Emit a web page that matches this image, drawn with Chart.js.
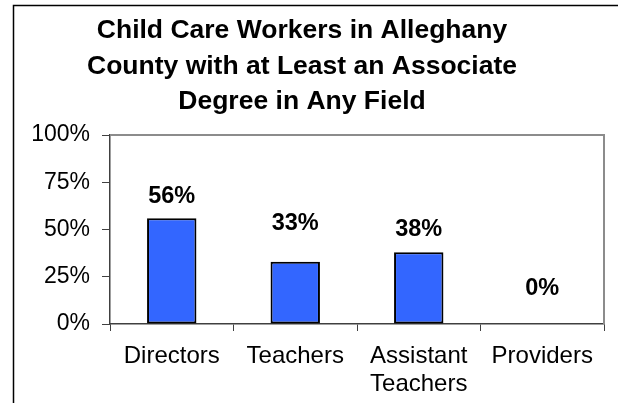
<!DOCTYPE html>
<html>
<head>
<meta charset="utf-8">
<title>Child Care Workers in Alleghany County</title>
<script src="https://cdn.jsdelivr.net/npm/chart.js@4.4.1/dist/chart.umd.min.js"></script>
<style>
  body { margin: 0; background: #ffffff; }
  canvas { display: block; }
</style>
</head>
<body>
<canvas id="degreeChart" width="618" height="403"></canvas>
<script>
// chart data
const titleLines = [
  "Child Care Workers in Alleghany",
  "County with at Least an Associate",
  "Degree in Any Field"
];
const categories = ["Directors", "Teachers", ["Assistant", "Teachers"], "Providers"];
const percentWithDegree = [56, 33, 38, 0];
const yTicks = [0, 25, 50, 75, 100];

const barBlue = "#3366ff";

Chart.defaults.font.family = "'Liberation Sans', Arial, sans-serif";
Chart.defaults.color = "#000000";

// draws the outer frame and the grey border round the plot area
const framePlugin = {
  id: "frame",
  beforeDraw(chart) {
    const ctx = chart.ctx;
    ctx.save();
    ctx.fillStyle = "#ffffff";
    ctx.fillRect(0, 0, chart.width, chart.height);
    ctx.strokeStyle = "#000000";
    ctx.lineWidth = 1.5;
    ctx.beginPath();
    ctx.moveTo(13.5, chart.height);
    ctx.lineTo(13.5, 5.5);
    ctx.lineTo(chart.width, 5.5);
    ctx.stroke();
    ctx.restore();
  },
  afterDraw(chart) {
    const a = chart.chartArea;
    const ctx = chart.ctx;
    ctx.save();
    ctx.strokeStyle = "#8c8c8c";
    ctx.lineWidth = 2;
    ctx.beginPath();
    ctx.moveTo(a.left, a.top);
    ctx.lineTo(a.right, a.top);
    ctx.lineTo(a.right, a.bottom);
    ctx.stroke();
    ctx.restore();
  }
};

// value labels above each bar (excel had them nudged by hand, so each gets its own lift)
const barLabelPlugin = {
  id: "barLabels",
  afterDatasetsDraw(chart, args, opts) {
    const ctx = chart.ctx;
    const meta = chart.getDatasetMeta(0);
    ctx.save();
    ctx.font = "bold 23.5px 'Liberation Sans', Arial, sans-serif";
    ctx.fillStyle = "#000000";
    ctx.textAlign = "center";
    ctx.textBaseline = "alphabetic";
    meta.data.forEach(function (bar, i) {
      const value = chart.data.datasets[0].data[i];
      ctx.fillText(value + "%", bar.x, bar.y - opts.lift[i]);
    });
    ctx.restore();
  }
};

new Chart(document.getElementById("degreeChart"), {
  type: "bar",
  data: {
    labels: categories,
    datasets: [{
      data: percentWithDegree,
      backgroundColor: barBlue,
      borderColor: "#000000",
      borderWidth: 2,
      borderSkipped: false,
      categoryPercentage: 0.8,
      barPercentage: 0.5
    }]
  },
  options: {
    responsive: false,
    animation: false,
    layout: {
      padding: { left: 0, right: 14, top: 0, bottom: 0 }
    },
    plugins: {
      legend: { display: false },
      tooltip: { enabled: false },
      title: {
        display: true,
        text: titleLines,
        color: "#000000",
        font: { size: 26.5, weight: "bold", lineHeight: 1.34 },
        padding: { top: 13, bottom: 15.5 }
      },
      barLabels: { lift: [15, 32, 16, 29] }
    },
    scales: {
      x: {
        afterFit: function (scale) { scale.height = 79; },
        grid: {
          drawOnChartArea: false,
          drawTicks: true,
          tickLength: 7,
          color: "#404040"
        },
        border: { display: true, color: "#404040", width: 1.5 },
        ticks: {
          color: "#000000",
          padding: 11,
          maxRotation: 0,
          autoSkip: false,
          font: { size: 24, lineHeight: 1.18 }
        }
      },
      y: {
        min: 0,
        max: 100,
        afterFit: function (scale) { scale.width = 110; },
        afterBuildTicks: function (scale) {
          scale.ticks = yTicks.map(function (v) { return { value: v }; });
        },
        grid: {
          drawOnChartArea: false,
          drawTicks: true,
          tickLength: 8,
          color: "#404040"
        },
        border: { display: true, color: "#404040", width: 1.5 },
        ticks: {
          color: "#000000",
          padding: 12,
          font: { size: 23 },
          callback: function (v) { return v + "%"; }
        }
      }
    }
  },
  plugins: [framePlugin, barLabelPlugin]
});
</script>
</body>
</html>
